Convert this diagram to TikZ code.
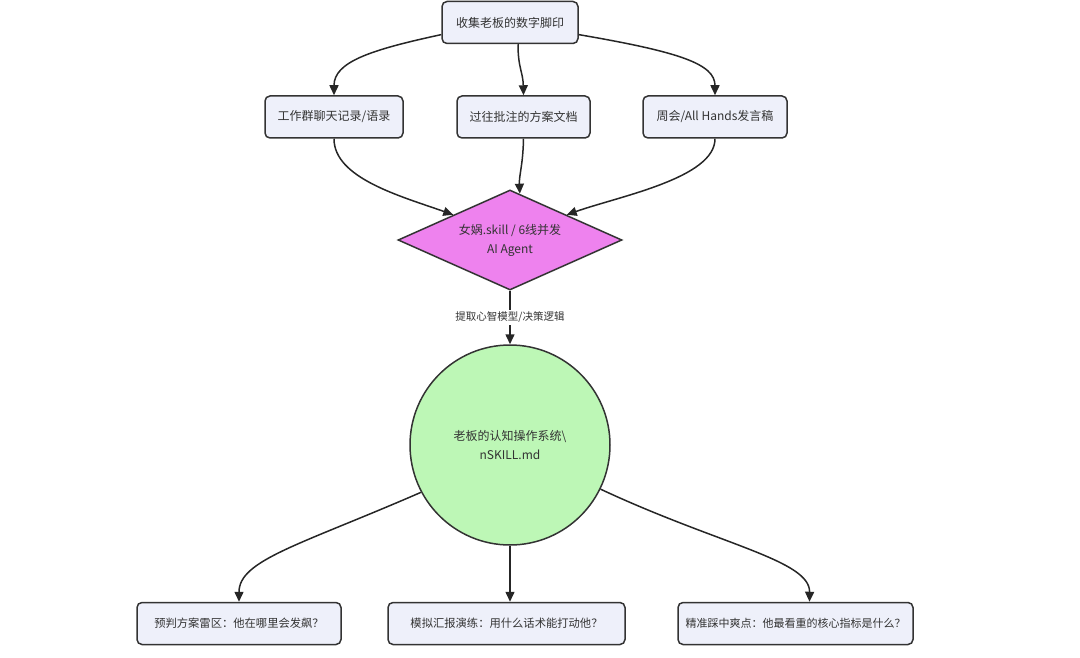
\documentclass[tikz,border=0pt]{standalone}
\usepackage{fontspec}
\setmainfont{Noto Sans CJK SC}
\usetikzlibrary{shapes.geometric,arrows.meta}
\definecolor{boxfill}{HTML}{EEF0FA}
\definecolor{edge}{HTML}{333333}
\definecolor{diafill}{HTML}{EE82EE}
\definecolor{circfill}{HTML}{BDF7B6}
\begin{document}
\begin{tikzpicture}[x=1pt,y=-1pt,
  box/.style={draw=edge,fill=boxfill,line width=1.5pt,rounded corners=5pt,minimum height=42pt,inner sep=0pt,font=\fontsize{12}{14}\selectfont,text=edge},
  lowbox/.style={box,font=\fontsize{11.3}{14}\selectfont},
  conn/.style={draw=black!85,line width=1.5pt,-{Triangle[length=10pt,width=9pt]}},
  lbl/.style={fill=white,font=\fontsize{10.5}{12}\selectfont,text=edge,inner sep=2pt}]
\useasboundingbox (0,0) rectangle (1080,658);
\node[box,minimum width=136pt] (top) at (510,22.5) {收集老板的数字脚印};
\node[box,minimum width=138pt] (b1) at (334,117) {工作群聊天记录/语录};
\node[box,minimum width=133pt] (b2) at (523.5,117) {过往批注的方案文档};
\node[box,minimum width=144pt] (b3) at (715,117) {周会/All Hands发言稿};
\node[diamond,aspect=2.24,draw=edge,fill=diafill,line width=1.5pt,minimum width=224pt,minimum height=100pt,inner sep=0pt,align=center,font=\fontsize{12}{19}\selectfont,text=edge] (d) at (510,240) {女娲.skill / 6线并发\\AI Agent};
\node[circle,draw=edge,fill=circfill,line width=1.5pt,minimum size=200pt,inner sep=0pt,align=center,font=\fontsize{12}{19}\selectfont,text=edge] (c) at (510,445) {老板的认知操作系统\textbackslash\\nSKILL.md};
\node[lowbox,minimum width=204pt] (bb1) at (239,623.5) {预判方案雷区：他在哪里会发飙？};
\node[lowbox,minimum width=237pt] (bb2) at (506.5,623.5) {模拟汇报演练：用什么话术能打动他？};
\node[lowbox,minimum width=235pt,font=\fontsize{11}{14}\selectfont] (bb3) at (795.5,623.5) {精准踩中爽点：他最看重的核心指标是什么？};

\draw[conn] (top.190) .. controls (370,50) and (334,62) .. (b1.north);
\draw[conn] ([xshift=8pt]top.south) .. controls (518,68) and (523,72) .. (b2.north);
\draw[conn] (top.-10) .. controls (680,52) and (715,64) .. (b3.north);

\draw[conn] (b1.south) .. controls (334,178) and (400,196) .. (d.156);
\draw[conn] (b2.south) .. controls (523,165) and (519,175) .. (d.78);
\draw[conn] (b3.south) .. controls (715,178) and (620,196) .. (d.24);

\draw[conn] (d.south) -- node[lbl] {提取心智模型/决策逻辑} (c.north);

\draw[conn] (c.208) .. controls (300,545) and (239,560) .. (bb1.north);
\draw[conn] (c.south) -- (c.south |- bb2.north);
\draw[conn] (c.-26) .. controls (720,545) and (810,560) .. ([xshift=14pt]bb3.north);
\end{tikzpicture}
\end{document}
